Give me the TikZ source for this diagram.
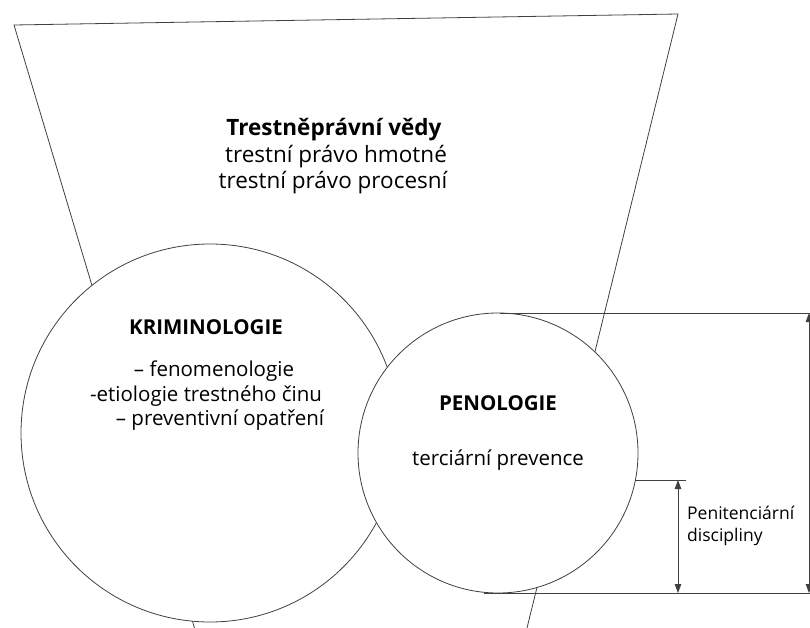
\documentclass[tikz,border=0pt]{standalone}
\usepackage{fontspec}
\setmainfont{Open Sans}
\usetikzlibrary{arrows.meta}
\begin{document}
\begin{tikzpicture}[x=1pt,y=-1pt,
  ln/.style={draw=black!75,line width=0.8pt},
  circ/.style={ln,fill=white,circle,inner sep=0pt},
  dim/.style={ln,{Triangle[length=9pt,width=6.5pt]}-{Triangle[length=9pt,width=6.5pt]}},
  big/.style={font=\fontsize{22.5}{26}\selectfont,align=center,inner sep=0pt},
  mid/.style={font=\fontsize{20.5}{24}\selectfont,align=center,inner sep=0pt},
  sml/.style={font=\fontsize{17.5}{24}\selectfont,align=left,inner sep=0pt,anchor=west}]
\useasboundingbox (0,0) rectangle (810,628);
% trapezoid (funnel)
\coordinate (tl) at (14,25);
\coordinate (tr) at (678,14);
\coordinate (bl) at (194.5,628);
\coordinate (br) at (527,628);
\draw[ln] (bl) -- (tl) -- (tr) -- (br);
% circles
\node[circ,minimum size=378pt] (krim) at (210,433) {};
\node[circ,minimum size=280pt] (pen) at (498,453) {};
% right dimension lines
\coordinate (t1) at (500,313);
\coordinate (t2) at (810,313);
\coordinate (b1) at (484,593);
\coordinate (b2) at (810,593);
\coordinate (m1) at (635,480);
\coordinate (m2) at (686,480);
\draw[ln] (t1) -- (t2);
\draw[ln] (b1) -- (b2);
\draw[ln] (m1) -- (m2);
\coordinate (a1) at (678,480);
\coordinate (a2) at (678,593);
\draw[dim] (a1) -- (a2);
\coordinate (r1) at (809,313);
\coordinate (r2) at (809,593);
\draw[dim] (r1) -- (r2);
% texts
\node[big] (tv) at (334,130) {\textbf{Trestněprávní vědy}};
\node[big] (th) at (336,157) {trestní právo hmotné};
\node[big] (tp) at (333,183) {trestní právo procesní};
\node[mid] (kt) at (206,327) {\textbf{KRIMINOLOGIE}};
\node[mid] (k1) at (214,371) {– fenomenologie};
\node[mid] (k2) at (206,396) {-etiologie trestného činu};
\node[mid] (k3) at (220,420) {– preventivní opatření};
\node[mid] (pt) at (498,403) {\textbf{PENOLOGIE}};
\node[mid] (p1) at (498,460) {terciární prevence};
\node[sml] (d1) at (687,513) {Penitenciární};
\node[sml] (d2) at (687,537) {discipliny};
\end{tikzpicture}
\end{document}
